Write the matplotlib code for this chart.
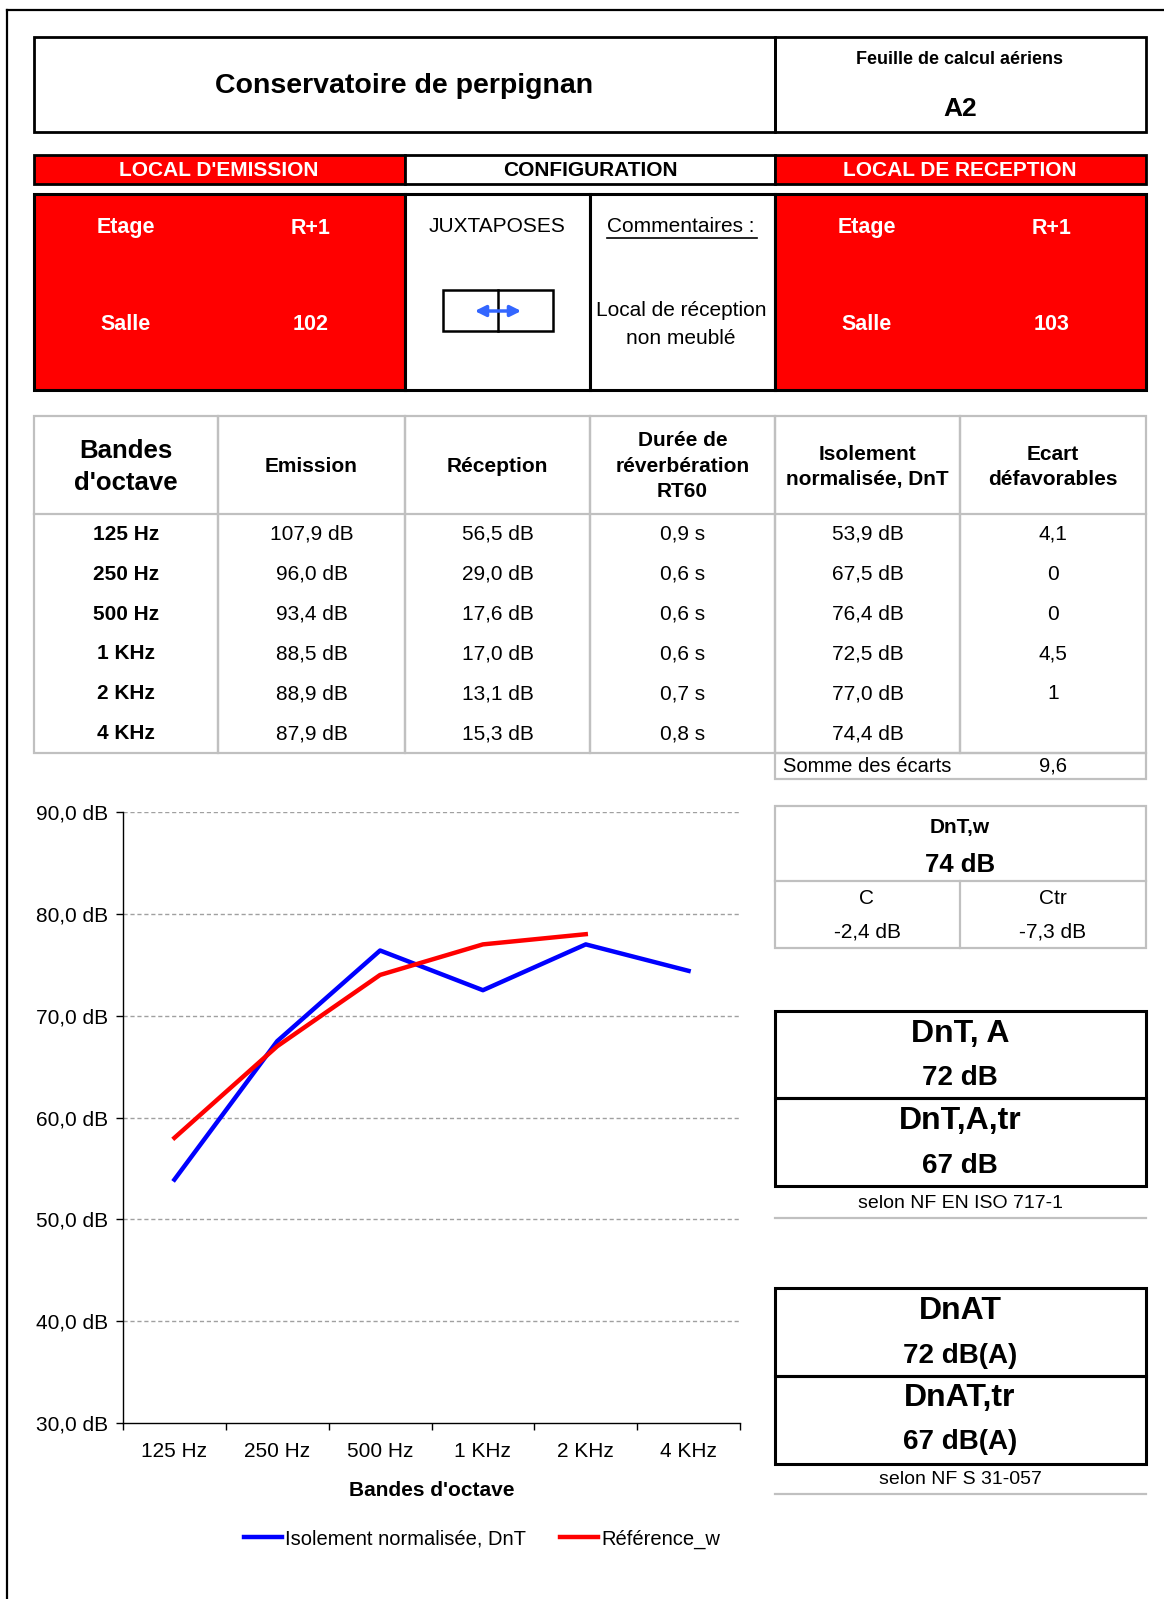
import numpy as np
from matplotlib import pyplot as plt
from matplotlib.patches import Rectangle

plt.rcParams['font.family'] = ['Liberation Sans', 'DejaVu Sans']

# DONNEES
bandes = ['125 Hz', '250 Hz', '500 Hz', '1 KHz', '2 KHz', '4 KHz']
emission = [107.9, 96.0, 93.4, 88.5, 88.9, 87.9]
reception = [56.5, 29.0, 17.6, 17.0, 13.1, 15.3]
rt60 = [0.9, 0.6, 0.6, 0.6, 0.7, 0.8]
dnt = [53.9, 67.5, 76.4, 72.5, 77.0, 74.4]
ecarts = ['4,1', '0', '0', '4,5', '1', '']
somme_ecarts = 9.6
reference_w = [58, 67, 74, 77, 78]
dntw = 74
c_val = -2.4
ctr_val = -7.3
dnta = 72
dntatr = 67
dnat = 72
dnattr = 67

W, H = 1164, 1599
ROUGE = '#ff0000'
GRIS = '#c0c0c0'


def fr(v, dec=1):
    return f"{v:.{dec}f}".replace('.', ',')


def boite(ax, x0, y0, x1, y1, fc='none', ec='black', lw=2.0):
    ax.add_patch(Rectangle((x0, y0), x1 - x0, y1 - y0, facecolor=fc,
                           edgecolor=ec, linewidth=lw, zorder=2))


def txt(ax, x, y, s, size=15, bold=False, color='black', **kw):
    ax.text(x, y, s, fontsize=size, fontweight='bold' if bold else 'normal',
            color=color, ha='center', va='center', zorder=5, **kw)


fig = plt.figure(figsize=(W / 100, H / 100), dpi=100)
bg = fig.add_axes([0, 0, 1, 1])
bg.set_xlim(0, W)
bg.set_ylim(H, 0)
bg.axis('off')

# cadre exterieur
bg.plot([7, W], [10, 10], color='black', lw=1.6)
bg.plot([7, 7], [10, H], color='black', lw=1.6)

# en-tete
boite(bg, 34, 37, 775, 132, lw=2.0)
boite(bg, 775, 37, 1146, 132, lw=2.0)
txt(bg, 404, 86, 'Conservatoire de perpignan', size=20.5, bold=True)
txt(bg, 960, 59, 'Feuille de calcul aériens', size=13, bold=True)
txt(bg, 960, 109, 'A2', size=19, bold=True)

# bandeau
boite(bg, 34, 155, 405, 184, fc=ROUGE)
boite(bg, 405, 155, 775, 184, fc='white')
boite(bg, 775, 155, 1146, 184, fc=ROUGE)
txt(bg, 219, 170, "LOCAL D'EMISSION", size=15, bold=True, color='white')
txt(bg, 590, 170, 'CONFIGURATION', size=15, bold=True)
txt(bg, 960, 170, 'LOCAL DE RECEPTION', size=15, bold=True, color='white')

# locaux
boite(bg, 34, 194, 405, 390, fc=ROUGE, lw=2.2)
boite(bg, 405, 194, 590, 390, fc='white', lw=2.2)
boite(bg, 590, 194, 775, 390, fc='white', lw=2.2)
boite(bg, 775, 194, 1146, 390, fc=ROUGE, lw=2.2)
for cx, salle in [(126, '102'), (867, '103')]:
    txt(bg, cx, 228, 'Etage', size=15.5, bold=True, color='white')
    txt(bg, cx + 185, 228, 'R+1', size=15.5, bold=True, color='white')
    txt(bg, cx, 325, 'Salle', size=15.5, bold=True, color='white')
    txt(bg, cx + 185, 325, salle, size=15.5, bold=True, color='white')

txt(bg, 497, 227, 'JUXTAPOSES', size=15)
boite(bg, 443, 290, 553, 331, lw=1.8)
bg.plot([498, 498], [290, 331], color='black', lw=1.8, zorder=3)
bg.annotate('', xy=(524, 311), xytext=(472, 311),
            arrowprops=dict(arrowstyle='<|-|>', color='#3366ff', lw=2.5,
                            mutation_scale=16), zorder=4)
txt(bg, 681, 227, 'Commentaires :', size=15)
bg.plot([607, 757], [238, 238], color='black', lw=1.2, zorder=5)
txt(bg, 681, 311, 'Local de réception', size=15)
txt(bg, 681, 338, 'non meublé', size=15)

# tableau
cols = [34, 218, 405, 590, 775, 960, 1146]
y_haut, y_ent, y_bas = 416, 514, 753
for i in range(6):
    bg.add_patch(Rectangle((cols[i], y_haut), cols[i + 1] - cols[i],
                           y_bas - y_haut, fill=False, ec=GRIS, lw=1.6))
bg.plot([cols[0], cols[-1]], [y_ent, y_ent], color=GRIS, lw=1.6)
boite(bg, 775, 753, 1146, 779, ec=GRIS, lw=1.6)

centres = [(cols[i] + cols[i + 1]) / 2 for i in range(6)]
txt(bg, centres[0], 467, "Bandes\nd'octave", size=18.5, bold=True, linespacing=1.45)
txt(bg, centres[1], 466, 'Emission', size=15, bold=True)
txt(bg, centres[2], 466, 'Réception', size=15, bold=True)
txt(bg, centres[3], 466, 'Durée de\nréverbération\nRT60', size=15, bold=True, linespacing=1.42)
txt(bg, centres[4], 467, 'Isolement\nnormalisée, DnT', size=15, bold=True, linespacing=1.45)
txt(bg, centres[5], 467, 'Ecart\ndéfavorables', size=15, bold=True, linespacing=1.45)

for i in range(len(bandes)):
    y = 534.5 + i * 39.8
    txt(bg, centres[0], y, bandes[i], size=15, bold=True)
    txt(bg, centres[1], y, fr(emission[i]) + ' dB')
    txt(bg, centres[2], y, fr(reception[i]) + ' dB')
    txt(bg, centres[3], y, fr(rt60[i]) + ' s')
    txt(bg, centres[4], y, fr(dnt[i]) + ' dB')
    txt(bg, centres[5], y, ecarts[i])
txt(bg, centres[4], 766, 'Somme des écarts', size=14.5)
txt(bg, centres[5], 766, fr(somme_ecarts), size=14.5)

# indice DnT,w
boite(bg, 775, 806, 1146, 948, ec=GRIS, lw=1.6)
bg.plot([775, 1146], [881, 881], color=GRIS, lw=1.6)
bg.plot([960, 960], [881, 948], color=GRIS, lw=1.6)
txt(bg, 960, 828, 'DnT,w', size=15, bold=True)
txt(bg, 960, 865, f'{dntw} dB', size=18.5, bold=True)
txt(bg, 867, 898, 'C', size=15)
txt(bg, 1053, 898, 'Ctr', size=15)
txt(bg, 867, 932, fr(c_val) + ' dB', size=15)
txt(bg, 1053, 932, fr(ctr_val) + ' dB', size=15)

# DnT,A
boite(bg, 775, 1011, 1146, 1098, lw=2.2)
boite(bg, 775, 1098, 1146, 1186, lw=2.2)
txt(bg, 960, 1034, 'DnT, A', size=23, bold=True)
txt(bg, 960, 1078, f'{dnta} dB', size=20, bold=True)
txt(bg, 960, 1121, 'DnT,A,tr', size=23, bold=True)
txt(bg, 960, 1166, f'{dntatr} dB', size=20, bold=True)
txt(bg, 960, 1203, 'selon NF EN ISO 717-1', size=14)
bg.plot([775, 1146], [1218, 1218], color=GRIS, lw=1.6)

# DnAT
boite(bg, 775, 1288, 1146, 1376, lw=2.2)
boite(bg, 775, 1376, 1146, 1464, lw=2.2)
txt(bg, 960, 1311, 'DnAT', size=23, bold=True)
txt(bg, 960, 1356, f'{dnat} dB(A)', size=20, bold=True)
txt(bg, 960, 1398, 'DnAT,tr', size=23, bold=True)
txt(bg, 960, 1442, f'{dnattr} dB(A)', size=20, bold=True)
txt(bg, 960, 1479, 'selon NF S 31-057', size=14)
bg.plot([775, 1146], [1494, 1494], color=GRIS, lw=1.6)

# GRAPHIQUE
x0, x1, y0, y1 = 123, 740, 812, 1423
ax = fig.add_axes([x0 / W, 1 - y1 / H, (x1 - x0) / W, (y1 - y0) / H])
ax.patch.set_alpha(0)
x = np.arange(len(bandes))
ax.plot(x, dnt, color='#0000ff', lw=3.2, label='Isolement normalisée, DnT', zorder=3)
ax.plot(x[:len(reference_w)], reference_w, color=ROUGE, lw=3.2, label='Référence_w', zorder=3)

ax.set_xlim(-0.5, len(bandes) - 0.5)
ax.set_ylim(30, 90)
yt = np.arange(30, 91, 10)
ax.set_yticks(yt)
ax.set_yticklabels([fr(v) + ' dB' for v in yt], fontsize=15)
for v in yt[1:]:
    ax.axhline(v, color='#a0a0a0', lw=1, ls=(0, (3, 2)), zorder=1)
ax.set_xticks(x)
ax.set_xticklabels(bandes, fontsize=15)
ax.set_xticks(np.arange(-0.5, len(bandes)), minor=True)
ax.tick_params(axis='x', which='major', length=0, pad=14)
ax.tick_params(axis='x', which='minor', length=5, direction='out', width=1)
ax.tick_params(axis='y', length=5, direction='out', width=1, pad=6)
ax.spines['top'].set_visible(False)
ax.spines['right'].set_visible(False)
ax.spines['left'].set_linewidth(1)
ax.spines['bottom'].set_linewidth(1)
ax.set_xlabel("Bandes d'octave", fontsize=15, fontweight='bold', labelpad=14)

ax.legend(loc='center', bbox_to_anchor=(482 / W, 1 - 1539 / H),
          bbox_transform=fig.transFigure, ncol=2, frameon=False,
          fontsize=14.5, handlelength=1.9, handletextpad=0.15,
          columnspacing=1.7)

plt.savefig('out.png', dpi=100)
